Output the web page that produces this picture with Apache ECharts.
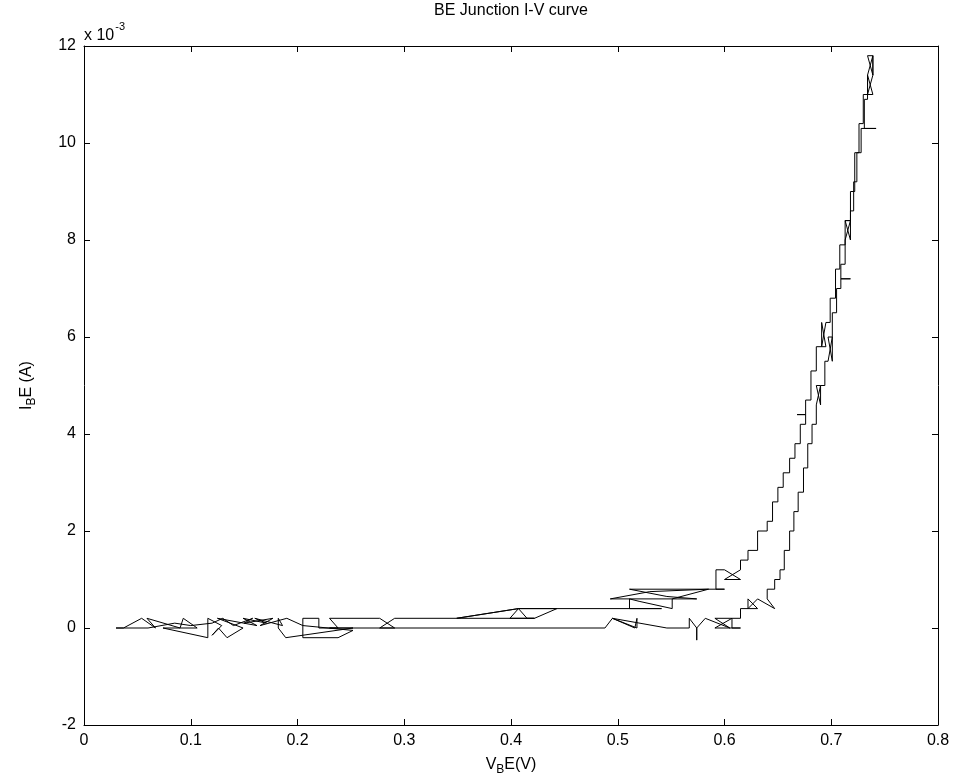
<!DOCTYPE html>
<html>
<head>
<meta charset="utf-8">
<script src="https://cdn.jsdelivr.net/npm/echarts/dist/echarts.min.js"></script>
<style>
  html, body { margin: 0; padding: 0; background: #fff; }
  #chart { width: 954px; height: 781px; }
</style>
</head>
<body>
<div id="chart"></div>
<script>
// Measured base-emitter sweep: [V_BE in volts, I in units of 1e-3 A]
// Forward pass along the near-zero floor up to the knee
const lowerSweep = [
  [0.030, 0], [0.037, 0], [0.054, 0.2], [0.067, 0], [0.059, 0.2], [0.090, 0],
  [0.093, 0.2], [0.106, 0], [0.074, 0], [0.116, -0.2], [0.116, 0.2], [0.129, 0.05],
  [0.120, -0.15], [0.126, 0], [0.134, -0.2], [0.149, 0], [0.125, 0.2], [0.162, 0.05],
  [0.149, 0.2], [0.171, 0.1], [0.160, 0.2], [0.186, 0.05], [0.182, 0.2], [0.182, 0],
  [0.189, -0.2], [0.252, 0], [0.230, 0], [0.488, 0], [0.495, 0.2], [0.516, 0],
  [0.518, 0.2], [0.518, 0], [0.495, 0.2], [0.546, 0], [0.567, 0], [0.567, 0.2],
  [0.574, 0], [0.574, -0.25], [0.574, 0], [0.582, 0.2], [0.605, 0], [0.591, 0.2],
  [0.607, 0.2], [0.591, 0], [0.615, 0], [0.607, 0]
];

// Rising branch (higher-voltage side of the loop)
const riseBranch = [
  [0.607, 0], [0.607, 0.2], [0.615, 0.2], [0.615, 0.4], [0.631, 0.4], [0.622, 0.6],
  [0.622, 0.4], [0.631, 0.6], [0.647, 0.4], [0.640, 0.6], [0.640, 0.8], [0.647, 0.8],
  [0.647, 1.0], [0.652, 1.0], [0.652, 1.2], [0.656, 1.2], [0.656, 1.6], [0.661, 1.6],
  [0.661, 2.0], [0.665, 2.0], [0.665, 2.4], [0.669, 2.4], [0.669, 2.8], [0.674, 2.8],
  [0.674, 3.3], [0.678, 3.3], [0.678, 3.8], [0.682, 3.8], [0.682, 4.2], [0.686, 4.2],
  [0.686, 4.6], [0.690, 5.0], [0.686, 5.0], [0.690, 4.6], [0.690, 5.0], [0.694, 5.0],
  [0.694, 5.5], [0.697, 5.5], [0.701, 6.0], [0.697, 6.0], [0.701, 5.5], [0.701, 6.5],
  [0.705, 6.5], [0.705, 7.0], [0.709, 7.0], [0.709, 7.2], [0.718, 7.2], [0.709, 7.2],
  [0.709, 7.5], [0.713, 7.5], [0.713, 8.0], [0.718, 8.4], [0.713, 8.4], [0.718, 8.0],
  [0.718, 8.6], [0.721, 8.6], [0.721, 9.2], [0.724, 9.2], [0.724, 9.8], [0.728, 9.8],
  [0.728, 10.3], [0.742, 10.3], [0.731, 10.3], [0.731, 10.9], [0.734, 10.9], [0.734, 11.4],
  [0.739, 11.8], [0.734, 11.8], [0.739, 11.4], [0.739, 11.8]
];

// Falling branch (lower-voltage side, same current range)
const fallBranch = [
  [0.739, 11.8], [0.739, 11.4], [0.734, 11.0], [0.739, 11.0], [0.734, 11.4], [0.734, 11.0],
  [0.730, 11.0], [0.730, 10.4], [0.726, 10.4], [0.726, 9.8], [0.722, 9.8], [0.722, 9.0],
  [0.718, 9.0], [0.718, 8.4], [0.713, 8.4], [0.713, 7.9], [0.708, 7.9], [0.708, 7.4],
  [0.704, 7.4], [0.704, 6.8], [0.699, 6.8], [0.699, 6.3], [0.695, 6.3], [0.691, 5.8],
  [0.695, 5.8], [0.691, 6.3], [0.691, 5.8], [0.686, 5.8], [0.686, 5.3], [0.681, 5.3],
  [0.681, 4.7], [0.676, 4.7], [0.676, 4.4], [0.668, 4.4], [0.676, 4.4], [0.676, 4.2],
  [0.671, 4.2], [0.671, 3.8], [0.666, 3.8], [0.666, 3.5], [0.661, 3.5], [0.661, 3.2],
  [0.655, 3.2], [0.655, 2.9], [0.650, 2.9], [0.650, 2.6], [0.645, 2.6], [0.645, 2.2],
  [0.640, 2.2], [0.640, 2.0], [0.631, 2.0], [0.631, 1.6], [0.622, 1.6], [0.622, 1.4],
  [0.615, 1.4], [0.615, 1.2], [0.600, 1.0], [0.615, 1.0], [0.600, 1.2], [0.592, 1.2],
  [0.592, 0.8], [0.600, 0.8]
];

// Return pass through the low-current plateaus back to the start
const returnSweep = [
  [0.600, 0.8], [0.511, 0.8], [0.546, 0.65], [0.574, 0.6], [0.493, 0.6], [0.530, 0.75],
  [0.585, 0.8], [0.551, 0.6], [0.551, 0.4], [0.520, 0.55], [0.511, 0.6], [0.511, 0.4],
  [0.541, 0.4], [0.407, 0.4], [0.415, 0.2], [0.422, 0.2], [0.443, 0.4], [0.407, 0.4],
  [0.399, 0.2], [0.422, 0.2], [0.349, 0.2], [0.407, 0.4], [0.349, 0.2], [0.291, 0.2],
  [0.277, 0], [0.291, 0], [0.277, 0.2], [0.230, 0.2], [0.238, 0], [0.220, 0],
  [0.220, 0.2], [0.205, 0.2], [0.205, -0.2], [0.238, -0.2], [0.252, -0.05], [0.205, 0.05],
  [0.190, 0.2], [0.165, 0.05], [0.177, 0.2], [0.150, 0.1], [0.158, 0.2], [0.140, 0.05],
  [0.130, 0.2], [0.120, 0.1], [0.100, 0.05], [0.085, 0.1], [0.060, 0], [0.030, 0]
];

const chartTitle = 'BE Junction I-V curve';
const xRange = { min: 0, max: 0.8, step: 0.1 };
const yRange = { min: -2, max: 12, step: 2 };

const FONT = '"Liberation Sans", Arial, Helvetica, sans-serif';
const BLACK = '#000';

const sweep = lowerSweep.concat(riseBranch, fallBranch, returnSweep);

const frameAxis = (extra) => Object.assign({
  type: 'value',
  axisLine: { show: true, onZero: false, lineStyle: { color: BLACK, width: 1 } },
  axisTick: { show: true, inside: true, length: 6, lineStyle: { color: BLACK, width: 1 } },
  splitLine: { show: false },
  axisLabel: { color: BLACK, fontSize: 16, fontFamily: FONT, margin: 8 }
}, extra);

const nameRich = {
  n: { fontSize: 16, fontFamily: FONT, color: BLACK },
  s: { fontSize: 12, fontFamily: FONT, color: BLACK, padding: [11, 0, 0, 0] }
};

const chart = echarts.init(document.getElementById('chart'), null, { renderer: 'canvas' });

chart.setOption({
  animation: false,
  backgroundColor: '#fff',
  grid: { left: 84, top: 46, width: 854, height: 679, containLabel: false },
  graphic: [
    {
      type: 'text', x: 511, y: 3,
      style: { text: chartTitle, fill: BLACK, font: '16px ' + FONT, textAlign: 'center', textVerticalAlign: 'top' }
    },
    {
      type: 'text', x: 84, y: 19,
      style: {
        text: '{a|x 10}{b|-3}',
        fill: BLACK,
        textVerticalAlign: 'top',
        rich: {
          a: { fontSize: 16, fontFamily: FONT, color: BLACK, padding: [9, 0, 0, 0] },
          b: { fontSize: 11, fontFamily: FONT, color: BLACK, padding: [0, 0, 10, 1] }
        }
      }
    }
  ],
  xAxis: [
    frameAxis({
      position: 'bottom', min: xRange.min, max: xRange.max, interval: xRange.step,
      name: '{n|V}{s|B}{n|E(V)}', nameLocation: 'middle', nameGap: 28,
      nameTextStyle: { rich: nameRich }
    }),
    frameAxis({
      position: 'top', min: xRange.min, max: xRange.max, interval: xRange.step,
      axisLabel: { show: false }
    })
  ],
  yAxis: [
    frameAxis({
      position: 'left', min: yRange.min, max: yRange.max, interval: yRange.step,
      name: '{n|I}{s|B}{n|E (A)}', nameLocation: 'middle', nameGap: 46,
      nameTextStyle: { rich: nameRich }
    }),
    frameAxis({
      position: 'right', min: yRange.min, max: yRange.max, interval: yRange.step,
      axisLabel: { show: false }
    })
  ],
  series: [{
    type: 'line',
    xAxisIndex: 0,
    yAxisIndex: 0,
    data: sweep,
    showSymbol: false,
    symbol: 'none',
    lineStyle: { color: BLACK, width: 1 },
    silent: true
  }]
});
</script>
</body>
</html>
